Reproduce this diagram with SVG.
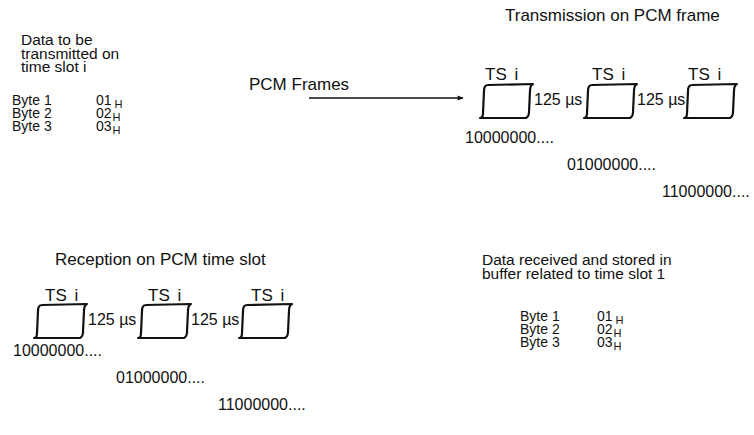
<svg xmlns="http://www.w3.org/2000/svg" width="754" height="435" viewBox="0 0 754 435">
<defs>
<style>
text{font-family:"Liberation Sans",Arial,sans-serif;font-size:16px;fill:#111}
.ttl{font-size:17px}
.blk{font-size:15.5px}
.row{font-size:14px}
.sub{font-size:11px}
.ts{font-size:17px;word-spacing:3px}
.box{fill:none;stroke:#111;stroke-width:2.2;stroke-linejoin:round;stroke-linecap:round}
.conn{stroke:#111;stroke-width:1.4;fill:none}
</style>
<path id="slot" class="box" d="M8,0 C5,0 4,2 4,6 L3,28 C3,31 2,33 0,33 L46,33 C48,32 49,30 49,27 L50,6 C50,2 51,0 53,-1 Z"/>
<marker id="ah" viewBox="0 0 10 10" refX="9" refY="5" markerWidth="9" markerHeight="6" markerUnits="userSpaceOnUse" orient="auto">
<path d="M0,1 L10,5 L0,9 Z" fill="#111"/>
</marker>
</defs>
<rect width="754" height="435" fill="#fff"/>

<g id="tx-data">
<text class="blk" x="21" y="45">Data to be</text>
<text class="blk" x="21" y="58.5">transmitted on</text>
<text class="blk" x="21" y="72">time slot i</text>
<text class="row" x="12" y="105">Byte 1</text>
<text class="row" x="12" y="118">Byte 2</text>
<text class="row" x="12" y="131">Byte 3</text>
<text class="row" x="96" y="105">01<tspan class="sub" dx="3" dy="3">H</tspan></text>
<text class="row" x="96" y="118">02<tspan class="sub" dx="1" dy="3">H</tspan></text>
<text class="row" x="96" y="131">03<tspan class="sub" dx="1" dy="3">H</tspan></text>
</g>

<g id="connectors">
<line class="conn" x1="309" y1="98" x2="463" y2="98" marker-end="url(#ah)"/>
</g>
<g id="pcm-label">
<text class="ttl" x="249" y="90">PCM Frames</text>
</g>

<g id="tx-frame">
<text class="ttl" x="505" y="21">Transmission on PCM frame</text>
<text class="ts" x="485" y="80">TS i</text>
<text class="ts" x="592" y="80">TS i</text>
<text class="ts" x="688" y="80">TS i</text>
<use href="#slot" x="480" y="85"/>
<use href="#slot" x="584" y="85"/>
<use href="#slot" x="684" y="85"/>
<text x="534" y="105">125 µs</text>
<text x="637" y="105">125 µs</text>
<text x="465" y="143">10000000....</text>
<text x="567" y="170">01000000....</text>
<text x="662" y="197">11000000....</text>
</g>

<g id="rx-slot">
<text class="ttl" x="55" y="265">Reception on PCM time slot</text>
<text class="ts" x="45" y="301">TS i</text>
<text class="ts" x="148" y="301">TS i</text>
<text class="ts" x="251" y="301">TS i</text>
<use href="#slot" x="34" y="305"/>
<use href="#slot" x="138" y="305"/>
<use href="#slot" x="239" y="305"/>
<text x="88" y="325">125 µs</text>
<text x="191" y="325">125 µs</text>
<text x="13" y="356">10000000....</text>
<text x="116" y="383">01000000....</text>
<text x="218" y="410">11000000....</text>
</g>

<g id="rx-data">
<text class="blk" x="482" y="265">Data received and stored in</text>
<text class="blk" x="482" y="279">buffer related to time slot 1</text>
<text class="row" x="520" y="321">Byte 1</text>
<text class="row" x="520" y="334">Byte 2</text>
<text class="row" x="520" y="347">Byte 3</text>
<text class="row" x="597" y="321">01<tspan class="sub" dx="3" dy="3">H</tspan></text>
<text class="row" x="597" y="334">02<tspan class="sub" dx="1" dy="3">H</tspan></text>
<text class="row" x="597" y="347">03<tspan class="sub" dx="1" dy="3">H</tspan></text>
</g>
</svg>
